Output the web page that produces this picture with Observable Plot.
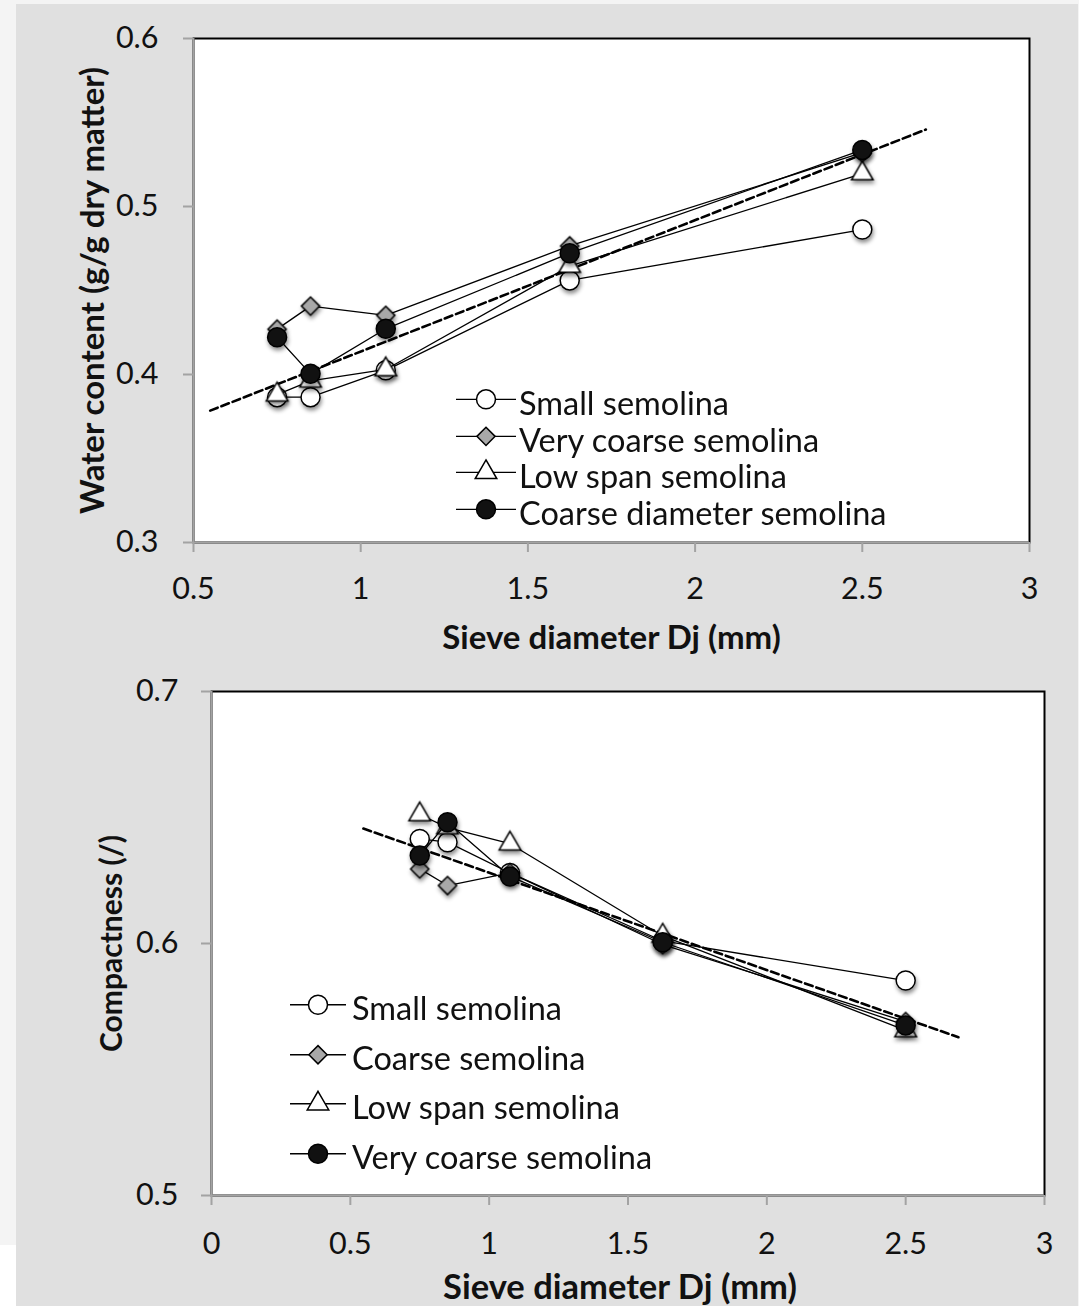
<!DOCTYPE html>
<html>
<head>
<meta charset="utf-8">
<script src="https://cdn.jsdelivr.net/npm/d3@7"></script>
<script src="https://cdn.jsdelivr.net/npm/@observablehq/plot@0.6"></script>
<style>
html, body { margin: 0; padding: 0; background: #f4f4f4; }
#page { position: relative; width: 1079px; height: 1306px; overflow: hidden; font-family: Lato, sans-serif; }
#panel { position: absolute; left: 16px; top: 4px; width: 1062px; height: 1302px; background: #e0e0e0; }
#corner { position: absolute; left: 0; top: 1245px; width: 16px; height: 61px; background: #ffffff; }
.chart { position: absolute; left: 0; }
.legend { position: absolute; font-family: Lato, sans-serif; font-size: 32.5px; color: #111; }
.legend .row { display: flex; align-items: center; white-space: nowrap; }
.legend svg { display: block; overflow: visible; }
g[aria-label="x-axis label"] text, g[aria-label="y-axis label"] text { font-weight: bold; font-size: 33px; }
#bottomWrap g[aria-label="y-axis label"] text { font-size: 30px; }
#bottomWrap g[aria-label="x-axis label"] text { font-size: 34.5px; }
</style>
</head>
<body>
<div id="page">
  <div id="panel"></div>
  <div id="corner"></div>
</div>
<script>
// ---------- data ----------
const sieve = [0.75, 0.85, 1.075, 1.625, 2.5];

// Top chart: water content (g/g dry matter)
const waterSeries = ["Small semolina", "Very coarse semolina", "Low span semolina", "Coarse diameter semolina"];
const waterSmall       = [0.3865, 0.3865, 0.4025, 0.456, 0.4863];
const waterVeryCoarse  = [0.427, 0.4407, 0.4352, 0.4765, 0.532];
const waterLowSpan     = [0.388, 0.3962, 0.403, 0.4645, 0.5196];
const waterCoarseDiam  = [0.4222, 0.4004, 0.4272, 0.4722, 0.5337];
const waterTrendX = [0.55, 2.69];
const waterTrendY = [0.3785, 0.5458];
const waterTicksX = [0.5, 1, 1.5, 2, 2.5, 3];
const waterTicksY = [0.3, 0.4, 0.5, 0.6];

// Bottom chart: compactness (/)
const compSeries = ["Small semolina", "Coarse semolina", "Low span semolina", "Very coarse semolina"];
const compSmall       = [0.6415, 0.6402, 0.628, 0.601, 0.5853];
const compCoarse      = [0.6296, 0.623, 0.628, 0.5996, 0.569];
const compLowSpan     = [0.6512, 0.646, 0.6396, 0.603, 0.5655];
const compVeryCoarse  = [0.6349, 0.6481, 0.6266, 0.6005, 0.5675];
const compTrendX = [0.547, 2.69];
const compTrendY = [0.6456, 0.5628];
const compTicksX = [0, 0.5, 1, 1.5, 2, 2.5, 3];
const compTicksY = [0.5, 0.6, 0.7];

// ---------- styles ----------
const markerStyles = [
  {symbol: "circle",   fill: "#ffffff", r: 9.5},
  {symbol: "diamond2", fill: "#a8a8a8", r: 8.2},
  {symbol: "triangle", fill: "#ffffff", r: 8},
  {symbol: "circle",   fill: "#111111", r: 9.5}
];
const symbolMap = {circle: d3.symbolCircle, diamond2: d3.symbolDiamond2, triangle: d3.symbolTriangle};
const AXIS_GRAY = "#a3a3a3";

function makeChart(cfg) {
  const series = cfg.names.map((name, i) => sieve.map((x, j) => ({series: name, x, y: cfg.values[i][j]})));
  const trend = cfg.trendX.map((x, i) => ({x, y: cfg.trendY[i]}));
  const marks = [
    Plot.frame({fill: "#ffffff", stroke: "#000000", strokeWidth: 2}),
    Plot.axisX({ticks: cfg.ticksX, tickFormat: d => String(d), tickSize: 10, tickPadding: cfg.padX,
      stroke: AXIS_GRAY, strokeWidth: 2, fill: "#111", label: cfg.xLabel, labelAnchor: "center", labelOffset: cfg.xLabelOffset, labelArrow: "none"}),
    Plot.axisY({ticks: cfg.ticksY, tickFormat: d => String(d), tickSize: 10, tickPadding: cfg.padY,
      stroke: AXIS_GRAY, strokeWidth: 2, fill: "#111", label: cfg.yLabel, labelAnchor: "center", labelOffset: cfg.yLabelOffset, labelArrow: "none"}),
    Plot.ruleX([cfg.ticksX[0]], {stroke: AXIS_GRAY, strokeWidth: 2}),
    Plot.ruleY([cfg.ticksY[0]], {stroke: AXIS_GRAY, strokeWidth: 2}),
    Plot.line(trend, {x: "x", y: "y", stroke: "#000", strokeWidth: 2.6, strokeDasharray: "8,4"})
  ];
  series.forEach((rows, i) => {
    const st = markerStyles[i];
    marks.push(Plot.line(rows, {x: "x", y: "y", stroke: "#000", strokeWidth: 1.3}));
    marks.push(Plot.dot(rows, {x: "x", y: "y", symbol: st.symbol, r: st.r, fill: st.fill, stroke: "#000", strokeWidth: 1.5}));
  });
  const svg = Plot.plot({
    width: 1079,
    height: cfg.height,
    marginLeft: cfg.marginLeft,
    marginRight: cfg.marginRight,
    marginTop: cfg.marginTop,
    marginBottom: cfg.marginBottom,
    x: {domain: [cfg.ticksX[0], cfg.ticksX[cfg.ticksX.length - 1]]},
    y: {domain: [cfg.ticksY[0], cfg.ticksY[cfg.ticksY.length - 1]]},
    style: {fontFamily: "Lato, sans-serif", fontSize: "30.5px", background: "transparent", color: "#111", overflow: "visible"},
    marks
  });
  svg.querySelectorAll('g[aria-label="dot"]').forEach(g => g.style.filter = "drop-shadow(1px 3px 2px rgba(0,0,0,0.45))");
  if (cfg.xLabelShift) {
    svg.querySelectorAll('g[aria-label="x-axis label"] text').forEach(t => t.setAttribute("dx", cfg.xLabelShift));
  }
  return svg;
}

function makeLegend(names, pos) {
  const div = document.createElement("div");
  div.className = "legend";
  div.style.left = pos.left + "px";
  div.style.top = pos.top + "px";
  names.forEach((name, i) => {
    const st = markerStyles[i];
    const row = document.createElement("div");
    row.className = "row";
    row.style.height = pos.rowH + "px";
    const w = pos.lineW;
    const svg = d3.create("svg").attr("width", w).attr("height", pos.rowH).style("margin-right", pos.gap + "px");
    svg.append("line").attr("x1", 0).attr("x2", w).attr("y1", pos.rowH / 2 + pos.lineDy).attr("y2", pos.rowH / 2 + pos.lineDy)
      .attr("stroke", "#000").attr("stroke-width", 1.3);
    svg.append("path").attr("transform", `translate(${w / 2},${pos.rowH / 2 + pos.lineDy})`)
      .attr("d", d3.symbol(symbolMap[st.symbol], Math.PI * st.r * st.r)())
      .attr("fill", st.fill).attr("stroke", "#000").attr("stroke-width", 1.5);
    row.appendChild(svg.node());
    const span = document.createElement("span");
    span.textContent = name;
    row.appendChild(span);
    div.appendChild(row);
  });
  return div;
}

const page = document.getElementById("page");

const topChart = makeChart({
  names: waterSeries,
  values: [waterSmall, waterVeryCoarse, waterLowSpan, waterCoarseDiam],
  trendX: waterTrendX, trendY: waterTrendY,
  ticksX: waterTicksX, ticksY: waterTicksY,
  xLabel: "Sieve diameter Dj (mm)", yLabel: "Water content (g/g dry matter)",
  height: 655, marginLeft: 193, marginRight: 50, marginTop: 38, marginBottom: 113,
  padX: 25, padY: 25, xLabelOffset: 106, yLabelOffset: 113
});
const topWrap = document.createElement("div");
topWrap.className = "chart"; topWrap.id = "topWrap"; topWrap.style.top = "0px";
topWrap.appendChild(topChart);
page.appendChild(topWrap);

const bottomChart = makeChart({
  names: compSeries,
  values: [compSmall, compCoarse, compLowSpan, compVeryCoarse],
  trendX: compTrendX, trendY: compTrendY,
  ticksX: compTicksX, ticksY: compTicksY,
  xLabel: "Sieve diameter Dj (mm)", yLabel: "Compactness (/)",
  height: 651, marginLeft: 211, marginRight: 35, marginTop: 36, marginBottom: 111,
  padX: 27, padY: 23, xLabelOffset: 103, yLabelOffset: 111, xLabelShift: -8
});
const botWrap = document.createElement("div");
botWrap.className = "chart"; botWrap.id = "bottomWrap"; botWrap.style.top = "655px";
botWrap.appendChild(bottomChart);
page.appendChild(botWrap);

page.appendChild(makeLegend(waterSeries, {left: 456, top: 384, rowH: 36.7, lineW: 60, gap: 3, lineDy: -3}));
page.appendChild(makeLegend(compSeries, {left: 290, top: 983, rowH: 49.5, lineW: 56, gap: 6, lineDy: -3}));
</script>
</body>
</html>
